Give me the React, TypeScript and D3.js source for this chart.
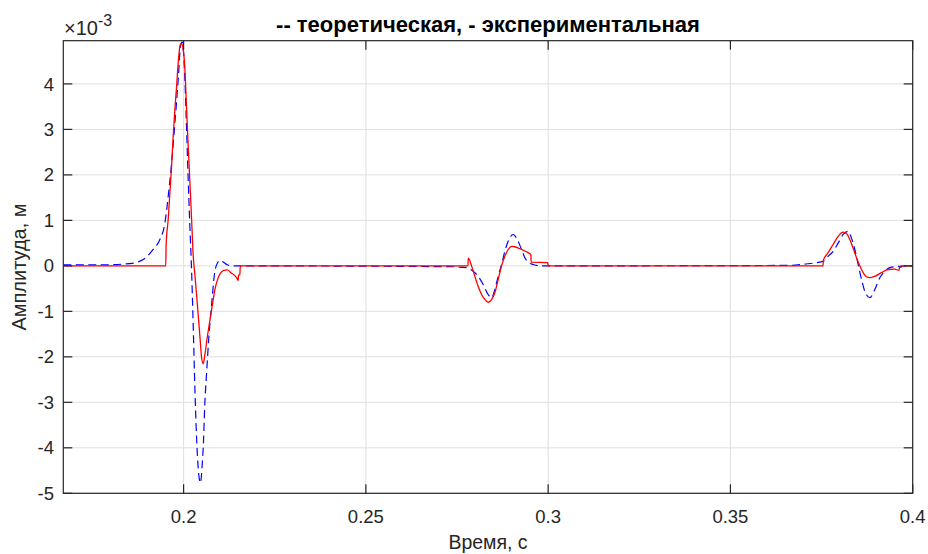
import React from "react";
import * as d3 from "d3";

// time (s), amplitude (×10^-3 m)
const expT = [0.167, 0.1951, 0.1952, 0.19578, 0.19624, 0.19671, 0.19715, 0.19761, 0.19808, 0.19852, 0.19899, 0.19934, 0.19989, 0.20036, 0.20082, 0.20126, 0.20173, 0.20219, 0.20263, 0.2031, 0.20373, 0.20447, 0.20494, 0.20538, 0.20584, 0.20653, 0.20721, 0.2079, 0.20858, 0.20941, 0.21023, 0.21105, 0.21196, 0.21297, 0.21454, 0.21498, 0.21508, 0.21544, 0.21554, 0.2780, 0.2781, 0.27899, 0.2799, 0.2808, 0.28173, 0.28264, 0.28354, 0.28448, 0.28538, 0.28629, 0.28722, 0.28812, 0.28903, 0.28996, 0.29087, 0.2927, 0.29451, 0.29525, 0.29535, 0.29956, 0.2999, 0.3000, 0.3754, 0.37548, 0.3768, 0.37817, 0.37954, 0.38091, 0.38184, 0.38275, 0.38365, 0.38459, 0.38549, 0.3864, 0.38733, 0.38823, 0.38961, 0.39144, 0.39325, 0.39509, 0.39627, 0.39636, 0.39682, 0.39692, 0.4];
const expV = [0, 0, 0.45, 1.03, 1.61, 2.2, 2.86, 3.44, 3.95, 4.46, 4.83, 4.89, 4.76, 4.32, 3.44, 2.64, 1.83, 1.03, 0.23, -0.2, -0.8, -1.55, -2.02, -2.15, -1.95, -1.55, -1.2, -0.85, -0.52, -0.28, -0.15, -0.1, -0.09, -0.15, -0.26, -0.32, -0.2, -0.2, 0, 0, 0.17, 0, -0.23, -0.45, -0.63, -0.74, -0.8, -0.74, -0.59, -0.3, 0, 0.21, 0.36, 0.43, 0.42, 0.36, 0.29, 0.25, 0.08, 0.07, 0.07, 0, 0, 0.12, 0.29, 0.47, 0.65, 0.74, 0.71, 0.58, 0.39, 0.18, 0, -0.15, -0.24, -0.26, -0.23, -0.15, -0.08, -0.07, -0.1, -0.03, -0.03, 0, 0];

const theoT = [0.167, 0.17704, 0.18527, 0.18892, 0.19166, 0.1935, 0.19487, 0.19578, 0.19671, 0.19761, 0.19852, 0.19918, 0.19962, 0.20036, 0.20082, 0.20126, 0.20173, 0.20219, 0.20263, 0.2031, 0.20357, 0.20406, 0.20461, 0.20516, 0.20538, 0.20584, 0.20631, 0.20694, 0.20768, 0.20858, 0.20941, 0.20996, 0.21078, 0.21179, 0.21325, 0.21544, 0.27522, 0.27578, 0.27762, 0.27943, 0.2808, 0.28217, 0.28354, 0.28448, 0.28538, 0.28629, 0.28722, 0.28812, 0.28903, 0.2904, 0.29133, 0.2927, 0.29361, 0.29451, 0.29589, 0.29772, 0.36629, 0.3704, 0.37361, 0.37543, 0.3768, 0.37817, 0.37954, 0.38091, 0.38228, 0.38321, 0.38412, 0.38503, 0.38596, 0.38686, 0.38823, 0.38961, 0.39098, 0.39235, 0.39373, 0.39646, 0.4];
const theoV = [0.02, 0.02, 0.05, 0.14, 0.36, 0.58, 0.94, 1.53, 2.26, 3.14, 4.09, 4.85, 4.92, 4.09, 3.0, 1.9, 0.85, -0.1, -1.3, -2.7, -3.8, -4.5, -4.77, -4.3, -4.0, -3.0, -2.35, -1.55, -0.85, -0.12, 0.08, 0.12, 0.09, 0.03, 0.0, 0.0, -0.02, -0.03, -0.04, -0.12, -0.23, -0.41, -0.63, -0.7, -0.52, -0.23, 0.03, 0.32, 0.54, 0.69, 0.61, 0.36, 0.18, 0.08, 0.03, 0.0, 0.01, 0.04, 0.07, 0.1, 0.21, 0.32, 0.5, 0.69, 0.76, 0.61, 0.36, 0.03, -0.3, -0.56, -0.7, -0.52, -0.26, -0.12, -0.04, -0.01, 0];

const xTicks = [0.2, 0.25, 0.3, 0.35, 0.4];
const xTickLabels = ["0.2", "0.25", "0.3", "0.35", "0.4"];
const yTicks = [-5, -4, -3, -2, -1, 0, 1, 2, 3, 4];
const yTickLabels = ["-5", "-4", "-3", "-2", "-1", "0", "1", "2", "3", "4"];

const titleText = "-- теоретическая, - экспериментальная";
const xLabel = "Время, с";
const yLabel = "Амплитуда, м";

const W = 928;
const H = 554;
const L = 63.3, R = 912.7, T = 40.7, B = 493.3;
const font = "'Liberation Sans', Arial, Helvetica, sans-serif";
const axisColor = "#262626";

export default function App() {
  const x = d3.scaleLinear().domain([0.167, 0.4]).range([L, R]);
  const y = d3.scaleLinear().domain([-5, 4.95]).range([B, T]);
  const mk = (ts: number[], vs: number[]) =>
    d3
      .line<[number, number]>()
      .x((d) => x(d[0]))
      .y((d) => y(d[1]))
      .curve(d3.curveMonotoneX)(ts.map((t, i) => [t, vs[i]]) as [number, number][]) || "";
  const tl = 9;
  return (
    <svg
      width={W}
      height={H}
      style={{ position: "absolute", left: 0, top: 0, background: "#fff" }}
      fontFamily={font}
    >
      <defs>
        <clipPath id="plotclip">
          <rect x={L} y={T} width={R - L} height={B - T} />
        </clipPath>
      </defs>
      <rect x={0} y={0} width={W} height={H} fill="#fff" />
      {/* grid */}
      <g stroke="#dfdfdf" strokeWidth={1}>
        {xTicks.map((t) => (
          <line key={"gx" + t} x1={x(t)} x2={x(t)} y1={T} y2={B} />
        ))}
        {yTicks.map((t) => (
          <line key={"gy" + t} x1={L} x2={R} y1={y(t)} y2={y(t)} />
        ))}
      </g>
      {/* data */}
      <g clipPath="url(#plotclip)" fill="none">
        <path d={mk(theoT, theoV)} stroke="#0000ff" strokeWidth={1.2} strokeDasharray="8,4.5" />
        <path d={mk(expT, expV)} stroke="#ff0000" strokeWidth={1.3} />
      </g>
      {/* axes box */}
      <rect x={L} y={T} width={R - L} height={B - T} fill="none" stroke={axisColor} strokeWidth={1.2} />
      <g stroke={axisColor} strokeWidth={1.2}>
        {xTicks.map((t) => (
          <g key={"tx" + t}>
            <line x1={x(t)} x2={x(t)} y1={B} y2={B - tl} />
            <line x1={x(t)} x2={x(t)} y1={T} y2={T + tl} />
          </g>
        ))}
        {yTicks.map((t) => (
          <g key={"ty" + t}>
            <line x1={L} x2={L + tl} y1={y(t)} y2={y(t)} />
            <line x1={R} x2={R - tl} y1={y(t)} y2={y(t)} />
          </g>
        ))}
      </g>
      {/* tick labels */}
      <g fill={axisColor} fontSize={18.5}>
        {xTicks.map((t, i) => (
          <text key={"lx" + t} x={x(t)} y={522.5} textAnchor="middle">
            {xTickLabels[i]}
          </text>
        ))}
        {yTicks.map((t, i) => (
          <text key={"ly" + t} x={54} y={y(t) + 6.6} textAnchor="end">
            {yTickLabels[i]}
          </text>
        ))}
      </g>
      {/* exponent */}
      <text x={64} y={35} fill={axisColor} fontSize={20}>
        ×10<tspan dy={-9} fontSize={16}>-3</tspan>
      </text>
      {/* title */}
      <text x={(L + R) / 2} y={31.5} textAnchor="middle" fontWeight="bold" fontSize={22} fill="#000">
        {titleText}
      </text>
      {/* axis labels */}
      <text x={(L + R) / 2} y={549} textAnchor="middle" fontSize={19.5} fill={axisColor}>
        {xLabel}
      </text>
      <text
        transform={`translate(26,${(T + B) / 2}) rotate(-90)`}
        textAnchor="middle"
        fontSize={20}
        fill={axisColor}
      >
        {yLabel}
      </text>
    </svg>
  );
}
